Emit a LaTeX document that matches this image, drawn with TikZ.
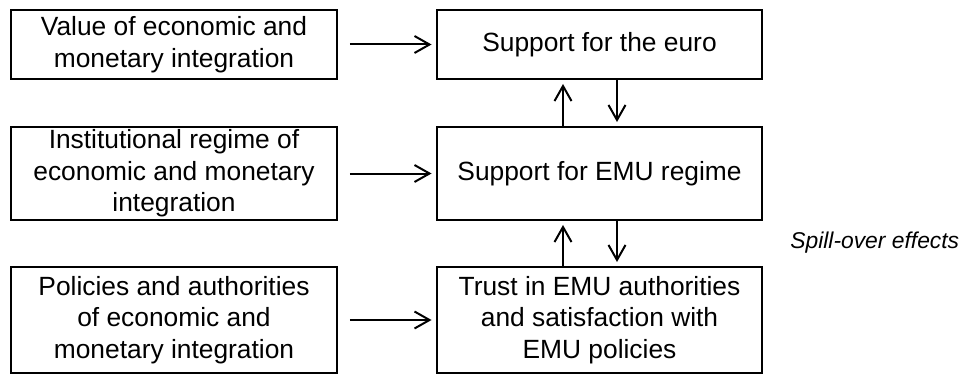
\documentclass[tikz,border=0pt]{standalone}
\usepackage{fontspec}
\setmainfont{Liberation Sans}
\usetikzlibrary{arrows.meta, calc}

\begin{document}
\begin{tikzpicture}[x=0.02cm, y=-0.02cm,
	box/.style={draw, line width=0.04cm, inner sep=0pt, align=center, minimum width=6.52cm, font=\fontsize{15}{18}\selectfont},
	arr/.style={line width=0.04cm, -{Straight Barb[length=0.3cm, width=0.34cm, line width=0.04cm]}, shorten >=0.08cm}]

	\useasboundingbox (0,0) rectangle (970,375);

	\node[box, minimum height=1.38cm] (value) at (174,44.5) {Value of economic and\\monetary integration};
	\node[box, minimum height=1.86cm] (regime) at (174,173.5) {Institutional regime of\\economic and monetary\\integration};
	\node[box, minimum height=2.12cm] (policies) at (174,320) {Policies and authorities\\of economic and\\monetary integration};

	\node[box, minimum height=1.38cm] (euro) at (599.5,44.5) {Support for the euro};
	\node[box, minimum height=1.86cm] (emu) at (599.5,173.5) {Support for EMU regime};
	\node[box, minimum height=2.12cm] (trust) at (599.5,320) {Trust in EMU authorities\\and satisfaction with\\EMU policies};

	\node[anchor=west, inner sep=0pt, font=\fontsize{13}{16}\selectfont\itshape] (spill) at (790,243) {Spill-over effects};

	\draw[arr, shorten <=0.24cm] (value.east) -- (euro.west);
	\draw[arr, shorten <=0.24cm] (regime.east) -- (emu.west);
	\draw[arr, shorten <=0.24cm] (policies.east) -- (trust.west);

	\draw[arr] ([xshift=-0.73cm]emu.north) -- ([xshift=-0.73cm]euro.south);
	\draw[arr] ([xshift=0.35cm]euro.south) -- ([xshift=0.35cm]emu.north);
	\draw[arr] ([xshift=-0.73cm]trust.north) -- ([xshift=-0.73cm]emu.south);
	\draw[arr] ([xshift=0.35cm]emu.south) -- ([xshift=0.35cm]trust.north);
\end{tikzpicture}
\end{document}
